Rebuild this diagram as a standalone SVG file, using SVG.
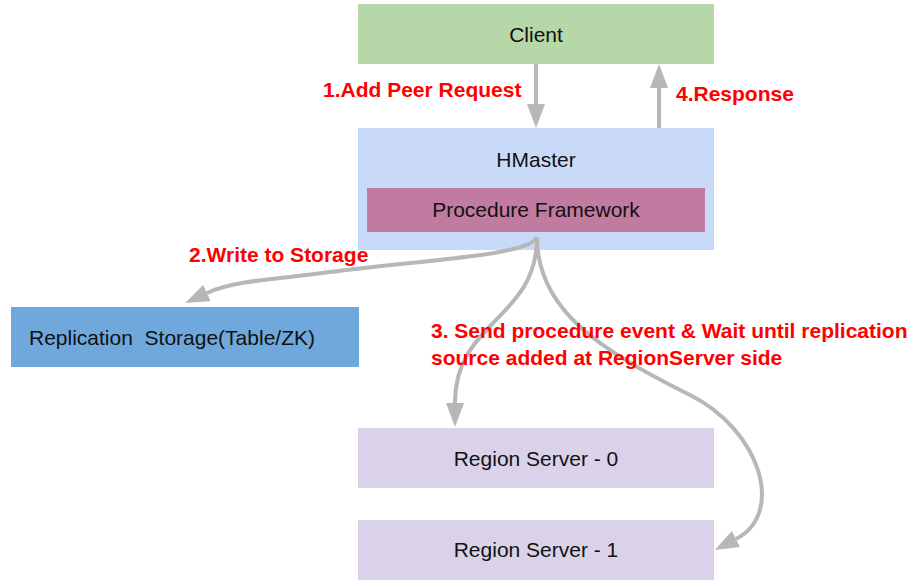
<svg xmlns="http://www.w3.org/2000/svg" width="919" height="580" viewBox="0 0 919 580">
  <style>
    .box-label { font-family: "Liberation Sans", Arial, sans-serif; font-size: 21px; fill: #111111; }
    .mid { text-anchor: middle; }
    .step { font-family: "Liberation Sans", Arial, sans-serif; font-size: 21px; font-weight: bold; fill: #ff0000; }
    .flow { fill: none; stroke: #b7b7b7; stroke-width: 4; marker-end: url(#head); }
  </style>
  <defs>
    <marker id="head" markerUnits="userSpaceOnUse" viewBox="0 0 24 18" refX="0" refY="9" markerWidth="24" markerHeight="18" orient="auto">
      <path d="M0,0 L24,9 L0,18 z" fill="#b7b7b7"/>
    </marker>
  </defs>
  <rect width="919" height="580" fill="#ffffff"/>

  <g id="client">
    <rect x="358" y="4" width="356" height="60" fill="#b6d7a8"/>
    <text class="box-label mid" x="536" y="42">Client</text>
  </g>

  <g id="hmaster">
    <rect x="358" y="128" width="356" height="122" fill="#c9daf8"/>
    <text class="box-label mid" x="536" y="167">HMaster</text>
  </g>

  <g id="procedure-framework">
    <rect x="367" y="188" width="338" height="44" fill="#c27ba0"/>
    <text class="box-label mid" x="536" y="217">Procedure Framework</text>
  </g>

  <g id="replication-storage">
    <rect x="11" y="307" width="348" height="60" fill="#6fa8dc"/>
    <text class="box-label" x="29" y="345">Replication &#160;Storage(Table/ZK)</text>
  </g>

  <g id="region-server-0">
    <rect x="358" y="428" width="356" height="60" fill="#d9d2e9"/>
    <text class="box-label mid" x="536" y="466">Region Server - 0</text>
  </g>

  <g id="region-server-1">
    <rect x="358" y="520" width="356" height="60" fill="#d9d2e9"/>
    <text class="box-label mid" x="536" y="557">Region Server - 1</text>
  </g>

  <g id="connectors">
    <path class="flow" d="M536,64 L536,104"/>
    <path class="flow" d="M659,128 L659,88"/>
    <path class="flow" d="M537,237 C530,256 420,260 330,272 C280,279 235,280 207,293"/>
    <path class="flow" d="M537,237 C537,320 455,320 455,403"/>
    <path class="flow" d="M537,237 C537,310 600,350 690,395 C760,430 786,513 736,539"/>
  </g>

  <g id="step-labels">
    <text class="step" x="323" y="97">1.Add Peer Request</text>
    <text class="step" x="676" y="101">4.Response</text>
    <text class="step" x="189" y="262">2.Write to Storage</text>
    <text class="step" x="431" y="338">3. Send procedure event &amp; Wait until replication</text>
    <text class="step" x="431" y="365">source added at RegionServer side</text>
  </g>
</svg>
